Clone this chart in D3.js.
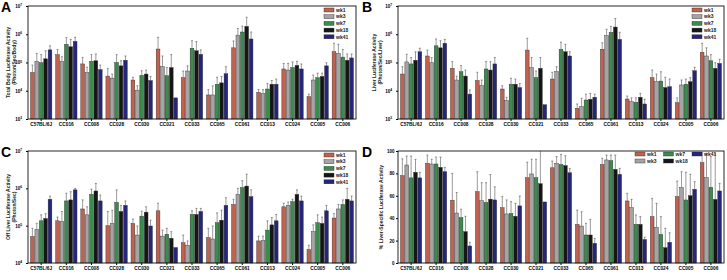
<!DOCTYPE html>
<html>
<head>
<meta charset="utf-8">
<script src="https://cdn.jsdelivr.net/npm/d3@7"></script>
<style>
  body { margin: 0; background: #fff; }
  svg { display: block; font-family: "Liberation Sans", Arial, sans-serif; font-weight: bold; }
</style>
</head>
<body>
<div class="canvas"></div>
<script>
const strains = ["C57BL/6J", "CC016", "CC008", "CC028", "CC030", "CC021", "CC033", "CC065", "CC061", "CC013", "CC024", "CC005", "CC006"]
const weeks = ["wk1", "wk3", "wk7", "wk18", "wk41"]
const colors = ["#c0624f", "#a4a4a4", "#3b8a4e", "#161616", "#25257c"]

// rows = strains, columns = weeks ; "Upper" = mean + SEM (top of error bar)
const totalBody = [
  [4.4e4, 1.1e5, 9.8e4, 1.35e5, 2.8e5],
  [1.9e5, 1.1e5, 4.4e5, 3.6e5, 5.6e5],
  [8.9e4, 4.4e4, 1.1e5, 1.15e5, 5.6e4],
  [3.3e4, 2.8e4, 1.0e5, 7.6e4, 1.2e5],
  [2.4e4, 1.05e4, 3.5e4, 3.9e4, 2.3e4],
  [3.0e5, 7.1e4, 3.4e4, 6.6e4, 5.6e3],
  [2.9e4, 5.0e4, 3.2e5, 2.6e5, 1.95e5],
  [7.1e3, 7.1e3, 1.7e4, 1.9e4, 4.0e4],
  [3.3e5, 9.3e5, 1.2e6, 1.9e6, 6.8e5],
  [8.7e3, 7.9e3, 1.15e4, 1.7e4, 1.7e4],
  [5.9e4, 5.4e4, 6.6e4, 7.9e4, 5.9e4],
  [6.2e3, 2.4e4, 2.9e4, 3.2e4, 7.6e4],
  [2.4e5, 2.1e5, 1.55e5, 1.2e5, 1.45e5]
]
const totalBodyUpper = [
  [8.1e4, 2.1e5, 1.9e5, 2.6e5, 3.9e5],
  [2.9e5, 1.6e5, 7.6e5, 6.6e5, 7.8e5],
  [1.5e5, 6.8e4, 1.9e5, 2.0e5, 8.1e4],
  [6.2e4, 3.9e4, 1.9e5, 1.15e5, 1.7e5],
  [3.0e4, 1.5e4, 5.1e4, 5.4e4, 3.2e4],
  [7.8e5, 1.7e5, 6.6e4, 1.9e5, 5.6e3],
  [5.0e4, 7.6e4, 5.9e5, 5.5e5, 2.8e5],
  [1.1e4, 1.5e4, 3.0e4, 3.2e4, 7.1e4],
  [5.8e5, 1.6e6, 1.95e6, 4.0e6, 1.2e6],
  [1.1e4, 1.1e4, 1.8e4, 2.3e4, 2.6e4],
  [9.3e4, 9.3e4, 1.05e5, 1.1e5, 8.9e4],
  [7.6e3, 3.6e4, 4.2e4, 4.2e4, 9.8e4],
  [4.8e5, 4.4e5, 2.9e5, 2.0e5, 2.0e5]
]

const liver = [
  [3.9e4, 1.05e5, 8.9e4, 1.2e5, 2.4e5],
  [1.7e5, 9.8e4, 3.9e5, 3.3e5, 4.8e5],
  [6.2e4, 2.4e4, 4.7e4, 3.3e4, 7.6e3],
  [2.3e4, 1.55e4, 5.9e4, 5.4e4, 8.9e4],
  [1.15e4, 4.5e3, 1.7e4, 1.7e4, 1.3e4],
  [2.75e5, 6.5e4, 2.9e4, 6.2e4, 3.2e3],
  [2.6e4, 4.7e4, 2.95e5, 2.4e5, 1.7e5],
  [2.4e3, 2.75e3, 4.7e3, 5.0e3, 5.9e3],
  [2.95e5, 8.9e5, 1.17e6, 1.8e6, 6.6e5],
  [5.1e3, 4.1e3, 3.9e3, 5.9e3, 3.4e3],
  [2.9e4, 2.1e4, 2.2e4, 1.3e4, 1.4e4],
  [3.8e3, 1.6e4, 1.7e4, 2.1e4, 5.1e4],
  [2.3e5, 1.7e5, 1.15e5, 6.2e4, 9.3e4]
]
const liverUpper = [
  [7.1e4, 1.95e5, 1.5e5, 2.4e5, 3.2e5],
  [2.75e5, 1.5e5, 6.8e5, 5.9e5, 6.6e5],
  [1.07e5, 3.3e4, 7.8e4, 5.4e4, 1.07e4],
  [4.5e4, 2.4e4, 1.07e5, 1.07e5, 1.5e5],
  [1.5e4, 5.9e3, 2.75e4, 2.6e4, 1.8e4],
  [7.2e5, 1.5e5, 5.0e4, 1.5e5, 3.2e3],
  [4.5e4, 7.1e4, 5.25e5, 4.4e5, 2.4e5],
  [3.4e3, 5.4e3, 7.6e3, 8.1e3, 7.6e3],
  [5.0e5, 1.5e6, 1.9e6, 3.6e6, 1.17e6],
  [6.5e3, 5.6e3, 5.6e3, 8.1e3, 5.0e3],
  [5.4e4, 3.9e4, 4.7e4, 3.0e4, 2.6e4],
  [5.6e3, 2.4e4, 2.6e4, 2.9e4, 6.8e4],
  [4.8e5, 3.3e5, 1.9e5, 9.8e4, 1.3e5]
]

const offLiver = [
  [5.1e4, 7.9e4, 1.35e5, 1.55e5, 5.1e5],
  [1.35e5, 1.3e5, 4.6e5, 4.9e5, 9.1e5],
  [2.8e5, 1.95e5, 6.9e5, 8.5e5, 4.6e5],
  [1.0e5, 1.15e5, 4.2e5, 2.4e5, 3.5e5],
  [1.15e5, 5.6e4, 1.8e5, 2.3e5, 9.8e4],
  [2.5e5, 5.25e4, 5.9e4, 4.6e4, 2.6e4],
  [3.5e4, 3.0e4, 2.0e5, 2.0e5, 2.4e5],
  [4.8e4, 4.4e4, 1.2e5, 1.4e5, 3.5e5],
  [3.7e5, 6.9e5, 1.05e6, 1.15e6, 6.0e5],
  [3.9e4, 4.0e4, 7.6e4, 1.05e5, 1.35e5],
  [3.2e5, 3.5e5, 4.4e5, 6.9e5, 4.6e5],
  [2.3e4, 6.9e4, 1.2e5, 1.15e5, 2.5e5],
  [1.6e5, 2.8e5, 3.7e5, 5.1e5, 4.6e5]
]
const offLiverUpper = [
  [8.5e4, 1.15e5, 1.95e5, 2.1e5, 6.2e5],
  [1.7e5, 2.4e5, 7.4e5, 8.1e5, 1.0e6],
  [4.9e5, 3.2e5, 9.5e5, 1.35e6, 6.6e5],
  [2.4e5, 2.6e5, 9.1e5, 3.5e5, 4.6e5],
  [1.5e5, 9.8e4, 2.45e5, 3.2e5, 1.4e5],
  [4.0e5, 7.6e4, 8.5e4, 6.9e4, 2.6e4],
  [5.6e4, 3.9e4, 2.5e5, 2.9e5, 2.9e5],
  [8.5e4, 9.8e4, 2.2e5, 2.6e5, 5.6e5],
  [5.1e5, 1.0e6, 1.6e6, 2.4e6, 9.1e5],
  [5.25e4, 5.25e4, 1.35e5, 1.65e5, 2.0e5],
  [4.0e5, 4.3e5, 5.1e5, 9.1e5, 6.2e5],
  [3.0e4, 1.05e5, 1.95e5, 1.7e5, 3.5e5],
  [2.1e5, 3.7e5, 4.9e5, 1.0e6, 6.2e5]
]

const pctLiver = [
  [78, 87.5, 76, 81, 76],
  [89, 88.4, 88.4, 85.4, 81.5],
  [56, 44.6, 40.5, 28, 15.2],
  [63.7, 55.7, 54, 57, 56.3],
  [49.4, 43.8, 44.3, 41.7, 51],
  [76.2, 79.5, 76.2, 70.8, 54.5],
  [85, 89, 88, 87, 80.6],
  [34.5, 33, 25, 25, 17.6],
  [88, 92, 91.4, 83.6, 79.2],
  [55.4, 49.4, 34.5, 34.5, 21],
  [41.4, 31.8, 25.6, 13.7, 18.5],
  [59.2, 67.3, 56.3, 60.1, 65.8],
  [89.6, 76.2, 67.6, 56.8, 64.3]
]
const pctLiverUpper = [
  [93, 95.5, 95.5, 92.5, 81],
  [96.4, 92.6, 94.6, 94.6, 85.4],
  [80, 63, 48, 41.7, 18.5],
  [81.5, 71.7, 71.7, 79, 68],
  [59.2, 56.3, 54.8, 53.3, 59.8],
  [90, 92.6, 92.6, 110, 54.5],
  [91, 95, 97, 95.8, 84.5],
  [47.3, 45.8, 35.4, 39, 22],
  [93.5, 96.4, 96.4, 96.4, 84.5],
  [62.2, 56.8, 42.9, 41.4, 23],
  [57.7, 53.3, 41.4, 31, 27],
  [73.2, 81.5, 81, 79.2, 72.6],
  [98.5, 98, 95, 98, 71.1]
]

const logTicksAB = [1e3, 1e4, 1e5, 1e6, 1e7]
const logTicksC = [1e4, 1e5, 1e6, 1e7]
const pctTicks = [0, 20, 40, 60, 80, 100]

const svg = d3.select(".canvas").append("svg").attr("width", 727).attr("height", 280)

const drawPanel = p => {
    const w = p.x1 - p.x0
    const h = p.y1 - p.y0
    const graph = svg.append("g").attr("transform", `translate(${p.x0}, ${p.y0})`)

    const x0 = d3.scaleBand().domain(strains).range([0, w]).paddingInner(0.15).paddingOuter(0.1)
    const x1 = d3.scaleBand().domain(weeks).range([0, x0.bandwidth()]).paddingInner(0.15)
    const y = p.log
        ? d3.scaleLog().domain(d3.extent(p.ticks)).range([h, 0])
        : d3.scaleLinear().domain([0, 100]).range([h, 0])

    graph.append("clipPath").attr("id", "clip" + p.letter)
        .append("rect").attr("width", w).attr("height", h)

    const groups = graph.selectAll(".grp")
        .data(strains)
        .enter().append("g")
        .attr("transform", d => `translate(${x0(d)}, 0)`)

    // error bars (upper only)
    groups.each(function(s, i) {
        const g = d3.select(this).append("g").attr("clip-path", `url(#clip${p.letter})`)
        weeks.forEach((wk, j) => {
            const cx = x1(wk) + x1.bandwidth() / 2
            const top = y(p.upper[i][j])
            const base = y(p.mean[i][j])
            if (base - top < 0.5) return
            g.append("line").attr("x1", cx).attr("x2", cx).attr("y1", base).attr("y2", top)
                .attr("stroke", "#555").attr("stroke-width", 0.6)
            g.append("line").attr("x1", cx - 1).attr("x2", cx + 1).attr("y1", top).attr("y2", top)
                .attr("stroke", "#555").attr("stroke-width", 0.6)
        })
    })

    groups.selectAll("rect")
        .data((s, i) => weeks.map((wk, j) => ({wk, j, v: p.mean[i][j]})))
        .enter().append("rect")
        .attr("x", d => x1(d.wk))
        .attr("width", x1.bandwidth())
        .attr("y", d => y(d.v))
        .attr("height", d => h - y(d.v))
        .attr("fill", d => colors[d.j])
        .attr("stroke", "#2a2a2a")
        .attr("stroke-width", 0.4)

    // axes
    const yAxis = d3.axisLeft(y).tickValues(p.ticks).tickSize(2).tickPadding(1.5)
    if (p.log) yAxis.tickFormat(() => "10")
    const yAxisGroup = graph.append("g").call(yAxis)
    yAxisGroup.select(".domain").remove()
    yAxisGroup.selectAll("text").attr("font-size", 4.5).attr("font-weight", "bold")
    if (p.log) {
        yAxisGroup.selectAll(".tick text").each(function(d) {
            d3.select(this).attr("dx", -2.5)
            d3.select(this).append("tspan").attr("dy", -1.8).attr("font-size", 3.2)
                .text(Math.round(Math.log10(d)))
        })
    }

    const xAxisGroup = graph.append("g").attr("transform", `translate(0, ${h})`)
        .call(d3.axisBottom(x0).tickSize(2).tickPadding(2))
    xAxisGroup.select(".domain").remove()
    xAxisGroup.selectAll("text").attr("font-size", 4.8).attr("font-weight", "bold")

    // frame
    graph.append("rect").attr("width", w).attr("height", h)
        .attr("fill", "none").attr("stroke", "#111").attr("stroke-width", 0.9)

    // y title
    const title = graph.append("text")
        .attr("transform", `translate(${p.titleX - p.x0}, ${h / 2}) rotate(-90)`)
        .attr("text-anchor", "middle").attr("font-size", 5).attr("fill", "#222")
    p.title.forEach((t, k) => title.append("tspan").attr("x", 0).attr("dy", k ? 6 : 0).text(t))

    // panel letter
    svg.append("text").attr("x", p.x0 - (p.letter === "A" || p.letter === "C" ? 27 : 36))
        .attr("y", p.y0 + 5.5).attr("font-size", 14).attr("fill", "#000").text(p.letter)

    // legend
    const legend = graph.append("g")
    weeks.forEach((wk, j) => {
        let lx, ly
        if (p.legendGrid) {
            const pos = [[0, 0], [0, 1], [1, 0], [1, 1], [2, 0]][j]
            lx = w - 89 + pos[0] * 28.5
            ly = 3 + pos[1] * 7
        } else {
            lx = w - 32
            ly = 4 + j * 6.7
        }
        legend.append("rect").attr("x", lx).attr("y", ly - 2).attr("width", 10).attr("height", 4)
            .attr("fill", colors[j]).attr("stroke", "#2a2a2a").attr("stroke-width", 0.4)
        legend.append("text").attr("x", lx + 12).attr("y", ly + 1.7)
            .attr("font-size", 5).attr("fill", "#222").text(wk)
    })
}

drawPanel({letter: "A", x0: 28, x1: 356, y0: 6, y1: 119, log: true, ticks: logTicksAB,
    mean: totalBody, upper: totalBodyUpper, titleX: 10,
    title: ["Total Body Luciferase Activity", "(Photon/Sec/Body)"]})
drawPanel({letter: "B", x0: 398, x1: 724, y0: 6, y1: 119, log: true, ticks: logTicksAB,
    mean: liver, upper: liverUpper, titleX: 376,
    title: ["Liver Luciferase Activity", "(Photon/Sec/Liver)"]})
drawPanel({letter: "C", x0: 28, x1: 356, y0: 151, y1: 263, log: true, ticks: logTicksC,
    mean: offLiver, upper: offLiverUpper, titleX: 10,
    title: ["Off Liver Luciferase Activity", "(Photon/Sec)"]})
drawPanel({letter: "D", x0: 398, x1: 724, y0: 151, y1: 263, log: false, ticks: pctTicks,
    mean: pctLiver, upper: pctLiverUpper, titleX: 383, legendGrid: true,
    title: ["% Liver-Specific Luciferase Activity"]})
</script>
</body>
</html>
